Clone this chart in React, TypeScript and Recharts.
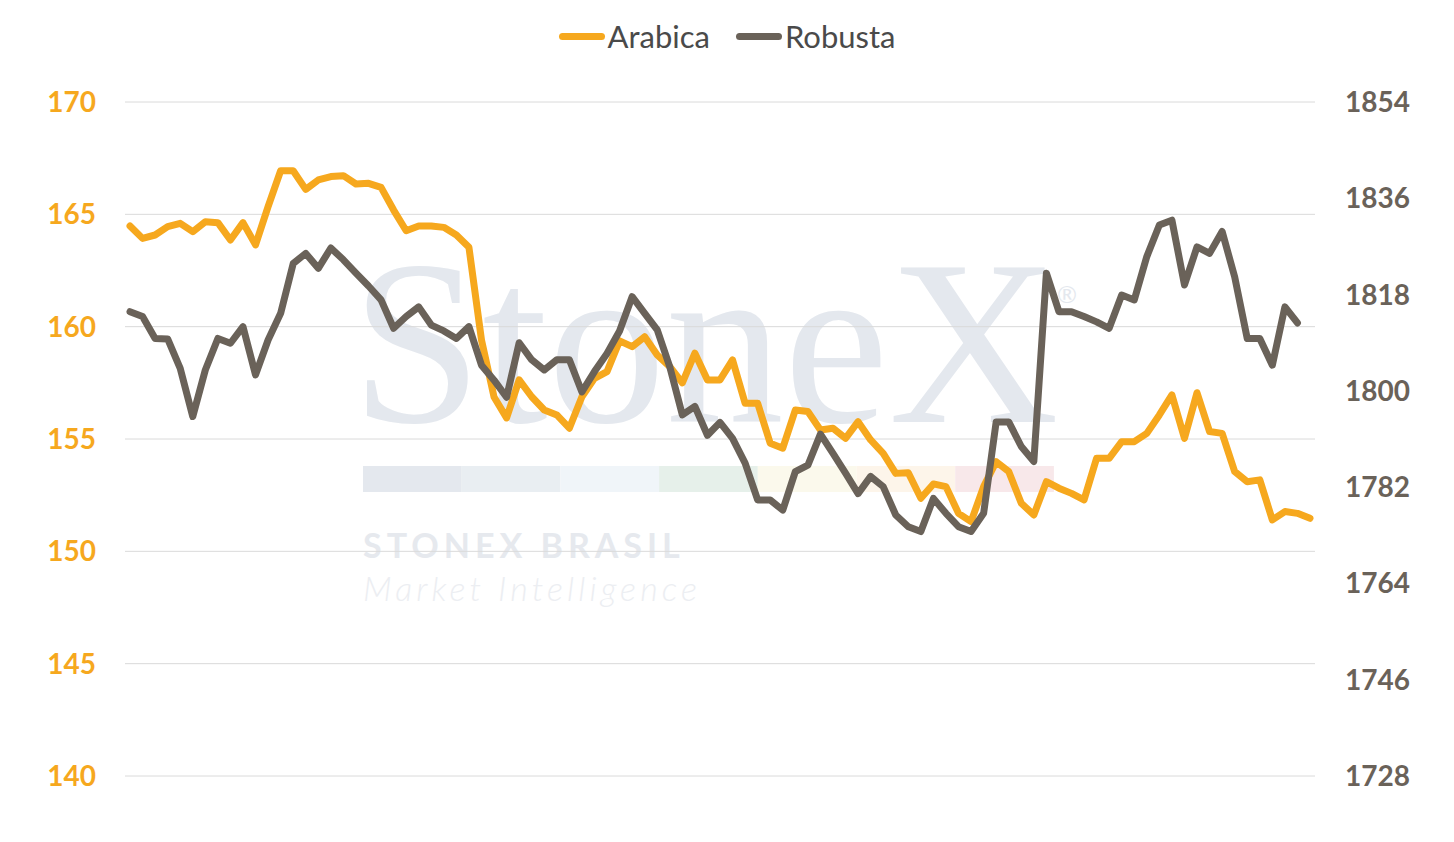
import React from "react";
import { LineChart, Line, XAxis, YAxis, CartesianGrid } from "recharts";

const arabica: number[] = [
  164.48, 163.93, 164.08, 164.45, 164.6, 164.23, 164.67, 164.63, 163.86, 164.63,
  163.64, 165.34, 166.94, 166.94, 166.11, 166.53, 166.68, 166.72, 166.35, 166.38,
  166.2, 165.19, 164.27, 164.48, 164.48, 164.42, 164.08, 163.53, 159.41, 156.87,
  155.94, 157.63, 156.88, 156.29, 156.07, 155.48, 156.88, 157.7, 158.0, 159.37,
  159.11, 159.55, 158.74, 158.22, 157.5, 158.82, 157.63, 157.63, 158.52, 156.59,
  156.59, 154.81, 154.59, 156.29, 156.22, 155.4, 155.48, 155.03, 155.77, 154.96,
  154.36, 153.47, 153.5, 152.36, 153.0, 152.88, 151.69, 151.32, 152.88, 153.99,
  153.55, 152.14, 151.62, 153.1, 152.81, 152.58, 152.29, 154.14, 154.14, 154.88,
  154.88, 155.25, 156.07, 156.96, 155.03, 157.06, 155.33, 155.25, 153.55, 153.1,
  153.18, 151.4, 151.77, 151.69, 151.47,
];

const robusta: (number | null)[] = [
  1814.8, 1813.9, 1809.8, 1809.7, 1804.2, 1795.2, 1803.9, 1809.8, 1808.9, 1812.0,
  1803.0, 1809.5, 1814.5, 1823.8, 1825.7, 1822.9, 1826.7, 1824.5, 1822.0, 1819.6,
  1817.0, 1811.7, 1813.9, 1815.7, 1812.3, 1811.2, 1809.8, 1812.0, 1804.8, 1802.0,
  1798.8, 1809.0, 1805.8, 1803.9, 1805.8, 1805.8, 1799.8, 1803.6, 1807.0, 1811.2,
  1817.6, 1814.5, 1811.4, 1804.5, 1795.5, 1797.1, 1791.7, 1794.1, 1791.1, 1786.5,
  1779.6, 1779.6, 1777.7, 1784.9, 1786.1, 1791.9, 1788.3, 1784.6, 1780.8, 1784.0,
  1782.1, 1776.8, 1774.6, 1773.7, 1779.9, 1777.1, 1774.6, 1773.7, 1777.1, 1794.2,
  1794.2, 1789.6, 1786.8, 1822.0, 1814.8, 1814.8, 1813.9, 1812.9, 1811.7, 1817.9,
  1817.0, 1825.1, 1831.0, 1831.9, 1819.8, 1826.9, 1825.7, 1829.8, 1821.3, 1809.8,
  1809.8, 1804.8, 1815.7, 1812.7, null,
];

const days: number[] = arabica.map((_, i) => i + 1);

const leftTicks: number[] = [140, 145, 150, 155, 160, 165, 170];
const rightTicks: number[] = [1728, 1746, 1764, 1782, 1800, 1818, 1836, 1854];

const seriesNames = { a: "Arabica", r: "Robusta" };

const ORANGE = "#F6A81E";
const GRAY = "#6A6259";

const data = days.map((d, i) => ({ day: d, arabica: arabica[i], robusta: robusta[i] }));

const stripColors = ["#E4E8EE", "#E9EEF2", "#F0F5F9", "#E6F0EA", "#FBF9EC", "#FDF5EA", "#F8E8EA"];

export default function App() {
  const W = 1438;
  const H = 826;
  return (
    <div style={{ position: "relative", width: W, height: H, background: "#fff", fontFamily: "Lato, sans-serif" }}>
      {/* watermark */}
      <svg width={W} height={H} style={{ position: "absolute", left: 0, top: 0 }}>
        <text x={343} y={414} fontFamily="'Liberation Serif', serif" fontSize={236} fill="#E4E8EE">
          StoneX
        </text>
        <text x={1049} y={295} fontFamily="Lato, sans-serif" fontSize={24} fill="#E4E8EE">
          ®
        </text>
        {stripColors.map((c, i) => (
          <rect key={i} x={355 + i * 98.7} y={458} width={98.7} height={26} fill={c} />
        ))}
        <text x={355} y={550} fontFamily="Lato, sans-serif" fontWeight={700} fontSize={34} letterSpacing={5} fill="#E6E9EE">
          STONEX BRASIL
        </text>
        <text x={355} y={593} fontFamily="Lato, sans-serif" fontStyle="italic" fontWeight={300} fontSize={34} letterSpacing={4.1} fill="#ECEEF2">
          Market Intelligence
        </text>
      </svg>
      {/* legend */}
      <div
        style={{
          position: "absolute",
          left: 0,
          top: 0,
          width: W,
          height: 56,
          display: "flex",
          justifyContent: "center",
          alignItems: "center",
          gap: 26,
          zIndex: 2,
        }}
      >
        {[
          { name: seriesNames.a, color: ORANGE },
          { name: seriesNames.r, color: GRAY },
        ].map((it) => (
          <div key={it.name} style={{ display: "flex", alignItems: "center" }}>
            <div style={{ width: 46, height: 7, borderRadius: 4, background: it.color, marginRight: 3 }} />
            <span style={{ fontSize: 31, color: "#4A4A4A", lineHeight: "34px" }}>{it.name}</span>
          </div>
        ))}
      </div>
      <div style={{ position: "absolute", left: 0, top: 0 }}>
        <LineChart width={W} height={H} data={data} margin={{ top: 94, right: 0, bottom: 58, left: 0 }}>
          <CartesianGrid yAxisId="l" vertical={false} stroke="#DADADA" strokeWidth={1} />
          <XAxis dataKey="day" hide padding={{ left: 5, right: 5 }} />
          <YAxis
            yAxisId="l"
            orientation="left"
            width={117}
            domain={[140, 170]}
            ticks={leftTicks}
            axisLine={false}
            tickLine={false}
            tickSize={0}
            tickMargin={29}
            tick={{ fill: ORANGE, fontSize: 28, fontWeight: 700, fontFamily: "Lato, sans-serif" }}
          />
          <YAxis
            yAxisId="r"
            orientation="right"
            width={131}
            domain={[1728, 1854]}
            ticks={rightTicks}
            axisLine={false}
            tickLine={false}
            tickSize={0}
            tickMargin={30}
            tick={{ fill: GRAY, fontSize: 28, fontWeight: 700, fontFamily: "Lato, sans-serif" }}
          />
          <Line
            yAxisId="l"
            type="linear"
            dataKey="arabica"
            name={seriesNames.a}
            stroke={ORANGE}
            strokeWidth={7}
            strokeLinejoin="round"
            strokeLinecap="round"
            dot={false}
            isAnimationActive={false}
          />
          <Line
            yAxisId="r"
            type="linear"
            dataKey="robusta"
            name={seriesNames.r}
            stroke={GRAY}
            strokeWidth={7}
            strokeLinejoin="round"
            strokeLinecap="round"
            dot={false}
            isAnimationActive={false}
          />
        </LineChart>
      </div>
    </div>
  );
}
